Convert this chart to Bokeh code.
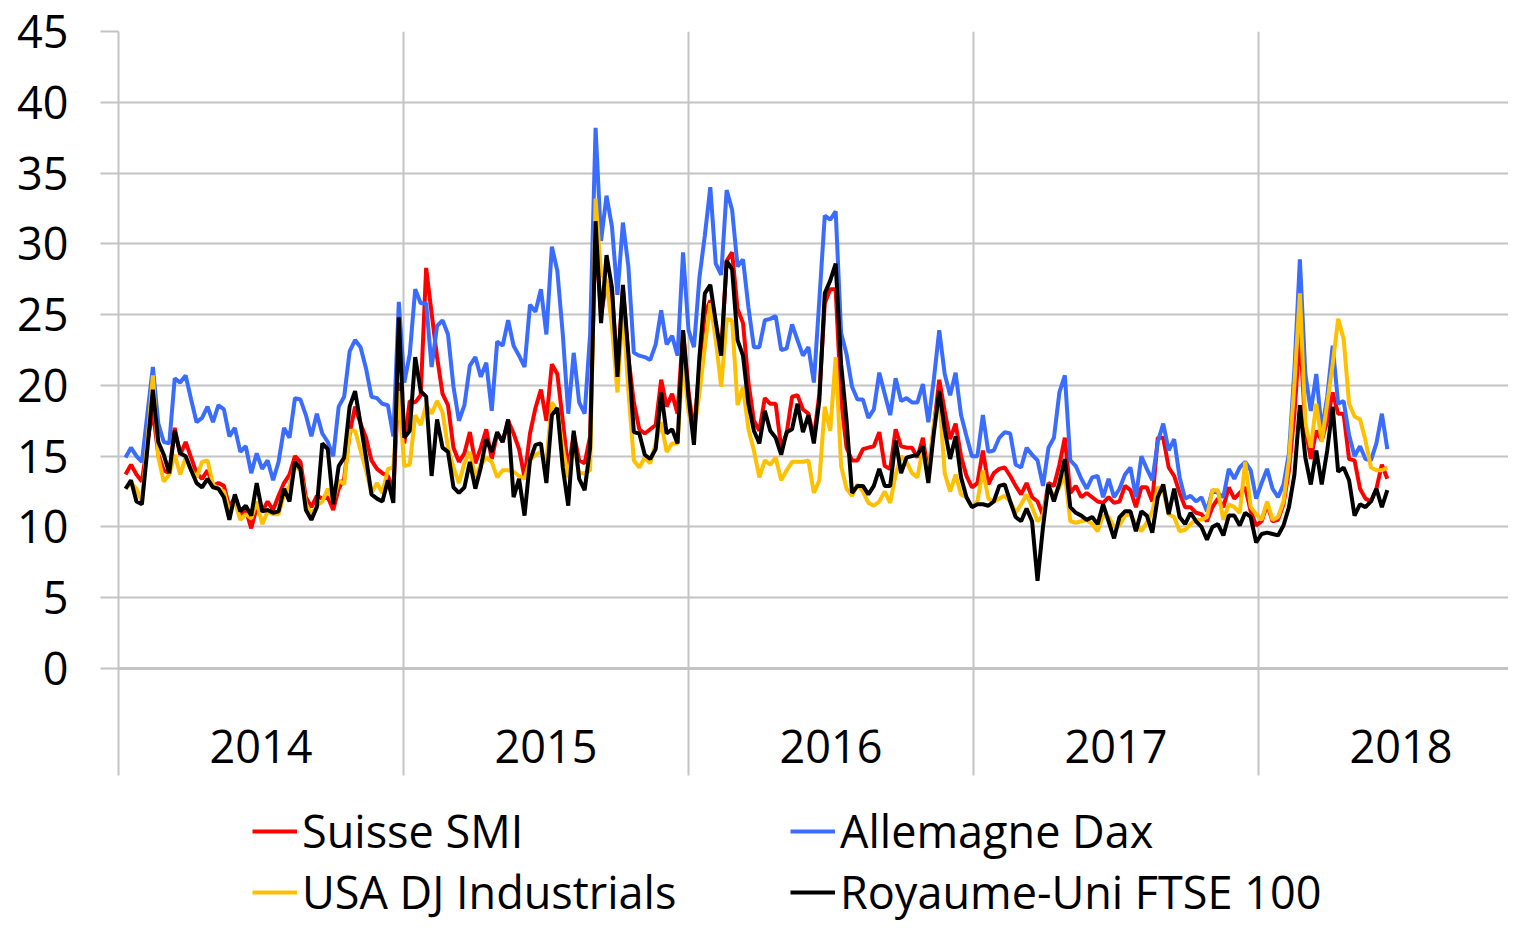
import numpy as np
import pandas as pd
from bokeh.plotting import figure
from bokeh.layouts import column
from bokeh.models import Range1d, FixedTicker, Legend, LegendItem
from bokeh.embed import file_html
from bokeh.resources import INLINE

# ---------------- data ----------------
year_starts = [2014, 2015, 2016, 2017, 2018]
year_labels = ["2014", "2015", "2016", "2017", "2018"]
y_ticks = [0, 5, 10, 15, 20, 25, 30, 35, 40, 45]
start_date = "2014-01-10"   # weekly observations

smi = [13.7, 14.4, 13.7, 13.2, 16.0, 18.2, 15.1, 14.0, 13.8, 17.0,
       15.1, 16.0, 14.9, 13.8, 13.4, 14.0, 12.9, 13.1, 12.9, 11.4,
       12.1, 10.9, 11.2, 9.9, 11.4, 11.1, 11.8, 11.2, 12.2,
       13.1, 13.7, 15.0, 14.6, 12.1, 11.4, 12.2, 12.0, 12.1, 11.2,
       12.7, 13.4, 16.6, 18.5, 17.3, 16.3, 14.7, 14.1, 13.8, 13.6,
       12.7, 20.2, 15.9, 18.9, 18.8, 19.3, 28.3, 25.1, 22.0,
       19.4, 18.6, 15.6, 14.6, 15.2, 16.7, 14.5, 15.6, 16.9, 14.8,
       16.6, 16.0, 17.5, 16.6, 15.5, 13.5, 16.6, 18.4, 19.7, 17.5,
       21.5, 20.8, 17.5, 14.0, 16.6, 14.7, 14.5, 16.4, 31.0,
       25.0, 27.3, 26.5, 21.0, 26.8, 22.0, 18.8, 16.9, 16.6, 16.9,
       17.2, 20.4, 18.5, 19.4, 18.0, 23.9, 19.6, 16.6, 21.3, 25.1,
       26.0, 24.1, 22.4, 28.8, 29.4, 25.4, 24.4, 20.2, 17.5, 16.8,
       19.1, 18.7, 18.7, 15.6, 16.6, 19.2, 19.3, 18.3, 18.0, 16.3,
       19.4, 25.8, 26.8, 26.8, 18.9, 15.6, 14.7, 14.7, 15.5, 15.6,
       15.7, 16.7, 14.3, 14.1, 16.9, 15.7, 15.6, 15.6, 14.9,
       16.3, 13.7, 17.0, 20.4, 18.2, 16.2, 17.3, 15.0, 13.6, 12.8,
       13.1, 15.4, 13.0, 13.8, 14.1, 14.2, 13.6, 12.9, 12.3, 13.1,
       12.1, 11.8, 10.8, 13.1, 12.9, 14.4, 16.3, 12.4, 12.9,
       12.1, 12.4, 12.1, 11.8, 11.7, 12.1, 11.7, 11.8, 12.9, 12.6,
       11.4, 12.8, 12.8, 11.8, 16.3, 16.3, 14.2, 13.6, 12.4, 11.4,
       11.4, 11.0, 10.9, 10.4, 11.4, 12.0, 11.4, 12.8, 12.0,
       12.4, 12.8, 11.1, 10.1, 10.4, 11.6, 10.4, 10.5, 11.6, 14.0,
       18.0, 23.7, 17.0, 14.8, 16.8, 16.1, 17.5, 19.5, 18.0, 18.0,
       14.8, 14.7, 12.7, 12.0, 11.8, 12.7, 14.4, 13.4]

dax = [14.9, 15.6, 15.0, 14.6, 18.0, 21.3, 17.3, 16.0, 15.9, 20.5,
       20.2, 20.7, 19.0, 17.4, 17.7, 18.5, 17.4, 18.6, 18.3, 16.4,
       17.0, 15.3, 15.7, 13.8, 15.2, 14.1, 14.7, 13.3, 14.6,
       17.0, 16.3, 19.1, 19.0, 17.9, 16.4, 18.0, 16.6, 16.0, 15.0,
       18.5, 19.2, 22.4, 23.2, 22.7, 21.2, 19.2, 19.1, 18.7, 18.6,
       16.4, 25.9, 20.2, 22.2, 26.8, 25.8, 25.8, 21.3, 24.2,
       24.6, 23.6, 19.9, 17.5, 18.6, 21.4, 22.0, 20.6, 21.6, 18.2,
       23.1, 22.8, 24.6, 22.8, 22.1, 21.3, 25.7, 25.2, 26.8, 23.6,
       29.8, 28.1, 23.6, 18.0, 22.3, 18.8, 18.0, 23.6, 38.2,
       30.2, 33.4, 31.2, 26.4, 31.5, 28.4, 22.3, 22.1, 22.0, 21.8,
       22.9, 25.3, 22.9, 23.5, 22.1, 29.4, 23.9, 22.7, 27.6, 30.6,
       34.0, 28.6, 27.8, 33.8, 32.4, 28.4, 28.9, 25.5, 22.7, 22.7,
       24.6, 24.7, 24.9, 22.5, 22.6, 24.3, 23.2, 22.1, 22.7, 20.2,
       26.0, 32.0, 31.7, 32.3, 23.7, 22.2, 19.9, 19.0, 19.0, 17.7,
       18.3, 20.9, 19.4, 17.9, 20.5, 18.9, 19.1, 18.8, 18.8,
       20.1, 17.4, 20.4, 23.9, 20.8, 19.3, 20.9, 17.9, 16.4, 15.0,
       15.0, 17.9, 15.3, 15.4, 16.3, 16.7, 16.6, 14.4, 14.2, 15.6,
       15.1, 14.7, 12.9, 15.6, 16.3, 19.5, 20.7, 14.7, 14.3,
       13.4, 12.7, 13.5, 13.6, 12.1, 13.4, 12.1, 12.7, 13.7, 14.2,
       12.1, 15.0, 14.1, 13.3, 16.0, 17.3, 15.4, 16.2, 13.5, 12.0,
       12.2, 11.8, 12.1, 11.1, 12.6, 12.4, 12.1, 14.1, 13.4,
       14.2, 14.6, 14.0, 12.0, 13.1, 14.1, 12.7, 12.1, 13.0, 15.2,
       21.1, 28.9, 20.8, 18.2, 20.8, 16.8, 19.2, 22.8, 18.7, 18.9,
       16.5, 15.0, 15.7, 14.8, 14.7, 15.9, 18.0, 15.5]

dji = [12.7, 13.1, 12.7, 11.8, 16.0, 20.7, 14.9, 13.2, 13.7, 15.1,
       13.7, 14.9, 14.0, 13.5, 14.6, 14.7, 13.0, 12.7, 12.5, 11.1,
       11.8, 10.5, 10.9, 10.6, 11.8, 10.2, 11.1, 10.9, 10.9,
       12.3, 12.9, 14.3, 14.0, 11.6, 10.9, 11.5, 11.8, 12.7, 11.8,
       13.3, 13.0, 16.8, 16.8, 15.4, 14.0, 12.4, 13.1, 12.4, 14.1,
       14.2, 19.6, 14.3, 14.4, 17.9, 17.2, 18.6, 18.0, 18.9,
       18.1, 15.6, 14.2, 13.1, 14.5, 15.3, 13.5, 14.4, 14.9, 14.6,
       13.5, 14.0, 14.0, 13.9, 13.6, 13.4, 14.7, 15.1, 15.3, 14.6,
       18.8, 18.2, 15.6, 13.5, 15.9, 13.8, 13.8, 14.0, 33.2,
       27.9, 27.4, 24.1, 19.5, 25.5, 19.6, 14.7, 14.2, 14.9, 14.5,
       15.9, 17.4, 15.3, 15.9, 15.9, 22.0, 18.1, 16.8, 19.4, 22.7,
       25.8, 23.2, 19.9, 24.7, 24.6, 18.6, 19.9, 16.9, 15.4, 13.5,
       14.7, 14.4, 14.9, 13.3, 14.0, 14.6, 14.6, 14.6, 14.7, 12.4,
       13.3, 18.5, 16.8, 22.0, 14.3, 12.7, 12.2, 13.0, 12.5, 11.7,
       11.5, 11.8, 12.5, 11.7, 13.7, 15.0, 14.6, 13.8, 13.5,
       15.6, 13.5, 17.3, 19.2, 13.8, 12.5, 13.7, 12.3, 12.1, 11.4,
       11.8, 14.0, 12.0, 11.8, 12.0, 12.2, 11.8, 11.0, 11.6, 12.3,
       11.4, 10.4, 10.8, 12.8, 12.2, 12.8, 13.7, 10.4, 10.3,
       10.4, 10.5, 10.2, 9.7, 10.8, 10.7, 10.0, 10.1, 10.8, 10.9,
       10.2, 9.7, 10.3, 11.1, 12.8, 12.6, 10.9, 10.7, 9.7, 9.8,
       10.2, 10.5, 10.5, 10.7, 12.6, 12.6, 10.5, 11.6, 11.4,
       11.0, 14.6, 11.4, 10.9, 10.5, 11.8, 10.5, 10.7, 11.8, 14.7,
       20.1, 26.5, 17.3, 15.6, 18.7, 16.0, 18.7, 21.5, 24.7, 23.3,
       18.7, 17.8, 17.6, 16.1, 14.2, 14.0, 14.0, 14.2]

ftse = [12.7, 13.3, 11.8, 11.6, 15.5, 19.7, 16.0, 15.1, 13.8, 16.8,
        15.2, 15.0, 14.0, 13.1, 12.8, 13.4, 12.8, 12.7, 12.1, 10.5,
        12.3, 11.1, 11.5, 10.8, 13.1, 11.1, 11.2, 11.0, 11.1,
        12.7, 11.8, 14.6, 14.1, 11.2, 10.5, 11.4, 15.9, 15.5, 11.6,
        14.3, 14.9, 18.5, 19.6, 17.3, 14.9, 12.3, 12.0, 11.8, 13.3,
        11.7, 24.8, 16.3, 16.8, 22.0, 19.6, 19.2, 13.6, 17.6,
        15.6, 15.3, 12.8, 12.4, 12.8, 14.6, 12.7, 14.2, 16.2, 15.3,
        16.7, 16.0, 17.6, 12.1, 13.4, 10.8, 14.7, 15.8, 15.9, 13.1,
        17.9, 18.4, 14.2, 11.5, 16.8, 13.4, 12.6, 15.6, 31.6,
        24.4, 29.2, 26.9, 20.6, 27.1, 22.2, 16.7, 16.6, 15.1, 14.8,
        15.5, 19.5, 16.6, 16.9, 15.9, 23.9, 19.2, 15.8, 22.0, 26.5,
        27.1, 24.5, 22.1, 28.8, 28.2, 23.2, 22.1, 18.7, 16.8, 15.9,
        18.2, 16.8, 16.3, 15.1, 16.7, 16.9, 18.7, 16.7, 17.9, 15.9,
        18.9, 26.5, 27.4, 28.6, 21.5, 17.5, 12.4, 12.9, 12.9, 12.3,
        12.9, 14.1, 12.9, 12.9, 16.1, 13.8, 14.9, 15.0, 15.1,
        15.7, 13.1, 16.6, 19.6, 16.9, 14.8, 16.4, 13.5, 12.1, 11.4,
        11.6, 11.6, 11.5, 11.8, 12.9, 13.0, 11.8, 10.7, 10.4, 11.3,
        10.4, 6.2, 10.0, 13.0, 11.8, 13.1, 14.8, 11.4, 11.0,
        10.8, 10.5, 10.7, 10.2, 11.6, 10.4, 9.2, 10.7, 11.1, 11.1,
        9.7, 11.1, 10.8, 9.6, 12.1, 13.0, 10.9, 12.7, 10.7, 10.2,
        11.0, 10.4, 10.0, 9.1, 10.0, 10.2, 9.4, 10.8, 10.8,
        10.1, 11.0, 10.7, 8.9, 9.5, 9.6, 9.5, 9.4, 10.1, 11.4,
        13.7, 18.6, 14.9, 13.0, 15.4, 13.0, 15.4, 18.5, 13.9, 14.2,
        13.3, 10.8, 11.6, 11.4, 11.8, 12.7, 11.4, 12.6]

series_names = ["Suisse SMI", "Allemagne Dax", "USA DJ Industrials", "Royaume-Uni FTSE 100"]
series_colors = ["#ff0000", "#3a6cff", "#ffc000", "#000000"]

# ---------------- x positions (fractional years) ----------------
dates = pd.date_range(start_date, periods=len(smi), freq="7D")
days_in_year = np.where(dates.is_leap_year, 366, 365)
xs = np.asarray(dates.year + (dates.dayofyear - 1) / days_in_year, dtype=float)

FONT = "Open Sans"
FS = "45px"
GRID = "#c4c4c4"
PX_PER_YEAR = 285.0
FRAME_W = 1390
LW = 4

p = figure(frame_width=FRAME_W, frame_height=637,
           x_range=Range1d(2014, 2014 + FRAME_W / PX_PER_YEAR),
           y_range=Range1d(0, 45),
           min_border_left=118, min_border_right=0,
           min_border_top=31, min_border_bottom=125,
           output_backend="svg", toolbar_location=None)
p.outline_line_color = None
p.background_fill_color = "white"
p.border_fill_color = "white"

# y axis
p.yaxis.ticker = FixedTicker(ticks=y_ticks)
p.yaxis.major_label_text_font = FONT
p.yaxis.major_label_text_font_size = FS
p.yaxis.major_label_text_color = "#000000"
p.yaxis.major_tick_out = 18
p.yaxis.major_tick_in = 0
p.yaxis.minor_tick_out = 0
p.yaxis.minor_tick_in = 0
p.yaxis.major_tick_line_color = GRID
p.yaxis.major_tick_line_width = 2
p.yaxis.axis_line_color = GRID
p.yaxis.axis_line_width = 2
p.yaxis.major_label_standoff = 32

# x axis: labels centred in each year, long minor ticks at year boundaries
centers = [y + 0.5 for y in year_starts]
p.xaxis.ticker = FixedTicker(ticks=centers, minor_ticks=year_starts)
p.xaxis.major_label_overrides = {c: lab for c, lab in zip(centers, year_labels)}
p.xaxis.major_label_text_font = FONT
p.xaxis.major_label_text_font_size = FS
p.xaxis.major_label_text_color = "#000000"
p.xaxis.major_tick_out = 0
p.xaxis.major_tick_in = 0
p.xaxis.minor_tick_out = 107
p.xaxis.minor_tick_in = 0
p.xaxis.minor_tick_line_color = GRID
p.xaxis.minor_tick_line_width = 2
p.xaxis.axis_line_color = GRID
p.xaxis.axis_line_width = 3
p.xaxis.major_label_standoff = -46

p.ygrid.ticker = FixedTicker(ticks=y_ticks)
p.ygrid.grid_line_color = GRID
p.ygrid.grid_line_width = 2
p.xgrid.ticker = FixedTicker(ticks=year_starts[1:])
p.xgrid.grid_line_color = GRID
p.xgrid.grid_line_width = 2

for vals, col in zip([smi, dax, dji, ftse], series_colors):
    p.line(xs, vals, line_color=col, line_width=LW)

# ---------------- legend strip (separate figure below the chart) ----------------
H1 = 31 + 637 + 125
H2 = 921 - H1
lg = figure(width=1508, height=H2, x_range=Range1d(0, 1), y_range=Range1d(0, 1),
            x_axis_type=None, y_axis_type=None,
            min_border_left=0, min_border_right=0, min_border_top=0, min_border_bottom=0,
            output_backend="svg", toolbar_location=None)
lg.outline_line_color = None
lg.xgrid.visible = False
lg.ygrid.visible = False
# legend keys: one undefined (NaN) point each, so only their legend glyphs show
keys = [lg.line(x=[np.nan], y=[np.nan], line_color=c, line_width=4) for c in series_colors]

common = dict(orientation="vertical", label_text_font=FONT, label_text_font_size=FS,
              label_text_color="#000000", glyph_width=45, glyph_height=40, label_standoff=5,
              label_height=50, spacing=-2, padding=0, margin=0,
              border_line_color=None, background_fill_alpha=0)
# the legend figure's frame is aligned with the chart frame (x = 118 px)
leg_a = Legend(items=[LegendItem(label=series_names[0], renderers=[keys[0]]),
                      LegendItem(label=series_names[2], renderers=[keys[2]])],
               location=(134, -1), **common)
leg_b = Legend(items=[LegendItem(label=series_names[1], renderers=[keys[1]]),
                      LegendItem(label=series_names[3], renderers=[keys[3]])],
               location=(672, -1), **common)
lg.add_layout(leg_a, "center")
lg.add_layout(leg_b, "center")

open("out.html", "w").write(file_html(column(p, lg), INLINE))
